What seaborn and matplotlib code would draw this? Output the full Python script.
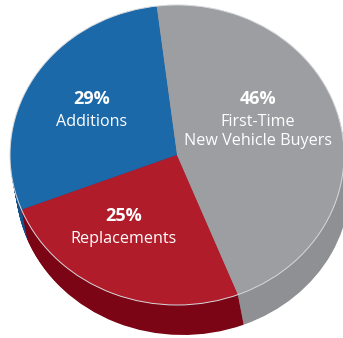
import matplotlib
matplotlib.use("Agg")
import matplotlib.pyplot as plt
import seaborn as sns

# ---- data ----
categories = ["Additions", "Replacements", "First-Time\nNew Vehicle Buyers"]
values = [29, 25, 46]
pct_labels = ["29%", "25%", "46%"]
top_colors = ["#1C69AA", "#B01C2A", "#9D9EA2"]
side_colors = ["#14508A", "#7C0515", "#8F9094"]

sns.set_theme(style="white")
plt.rcParams["font.family"] = ["Open Sans", "DejaVu Sans"]

fig = plt.figure(figsize=(3.43, 3.38), dpi=100)
ax = fig.add_axes([0, 0, 1, 1])

start = 97
depth = 0.2
shift_x = 0.035
n_layers = 40

# extruded side: stacked pies shifted downward (slightly right)
for i in range(n_layers, 0, -1):
    f = i / n_layers
    ax.pie(values, colors=side_colors, startangle=start, counterclock=True,
           center=(shift_x * f, -depth * f), radius=1,
           wedgeprops=dict(linewidth=0, antialiased=True))

# top face
ax.pie(values, colors=top_colors, startangle=start, counterclock=True,
       center=(0, 0), radius=1, wedgeprops=dict(linewidth=0))
# thin light rim on top face
ax.pie([1], colors=["none"], center=(0, 0), radius=1,
       wedgeprops=dict(linewidth=0.7, edgecolor="#D8D9DC", fill=False))

ax.set_aspect("auto")
ax.set_xlim(-1.060, 0.994)
ax.set_ylim(-1.22, 1.033)
ax.axis("off")

# label positions (axes data coords)
label_pos = [(-0.51, 0.37), (-0.32, -0.41), (0.485, 0.37)]
for (x, y), pct, name in zip(label_pos, pct_labels, categories):
    ax.text(x, y, pct, color="white", fontsize=13, fontweight="bold",
            ha="center", va="center")
    lines = name.split("\n")
    for k, ln in enumerate(lines):
        ax.text(x, y - 0.147 - 0.127 * k, ln, color="white", fontsize=11.6,
                ha="center", va="center")

fig.savefig("out.png", dpi=100)
